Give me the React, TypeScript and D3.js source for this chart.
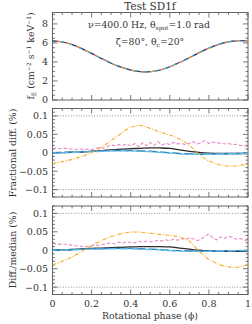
import React, { useEffect, useRef } from 'react';
import * as d3 from 'd3';

// phase grid used by the smooth curves (step 0.05) and the noisy pink curves (step 0.02)
const phase21 = d3.range(21).map(i => i / 20);
const phase51 = d3.range(51).map(i => i / 50);

// top panel: pulse profile (all codes overlap)
const fluxProfile = [6.22, 6.1, 5.82, 5.4, 4.9, 4.37, 3.87, 3.45, 3.15, 2.98, 2.97, 3.15, 3.5, 3.95, 4.45, 4.98, 5.45, 5.85, 6.12, 6.24, 6.22];

// middle panel: fractional difference (%)
const midOrange = [-0.029, -0.024, -0.018, -0.01, 0.0, 0.015, 0.033, 0.052, 0.069, 0.074, 0.066, 0.056, 0.048, 0.037, 0.02, -0.005, -0.022, -0.032, -0.036, -0.035, -0.03];
const midBlack = [0, 0.0005, 0.001, 0.002, 0.004, 0.006, 0.008, 0.01, 0.011, 0.012, 0.013, 0.013, 0.012, 0.008, 0.004, 0.001, -0.001, -0.002, -0.002, -0.002, -0.002];
const midBlue = [0, 0.001, 0.002, 0.003, 0.004, 0.005, 0.006, 0.006, 0.006, 0.005, 0.004, 0.002, 0.0, -0.002, -0.003, -0.004, -0.004, -0.003, -0.003, -0.002, -0.001];
const midCyan = [-0.001, 0, 0.001, 0.002, 0.003, 0.004, 0.005, 0.005, 0.005, 0.004, 0.003, 0.001, -0.001, -0.003, -0.004, -0.004, -0.004, -0.003, -0.002, -0.002, -0.001];
const midPink = [
  0.012, 0.012, 0.011, 0.012, 0.011, 0.01, 0.009, 0.011, 0.008, 0.01,
  0.009, 0.012, 0.014, 0.013, 0.017, 0.021, 0.019, 0.022, 0.02, 0.024,
  0.018, 0.025, 0.016, 0.027, 0.019, 0.028, 0.02, 0.03, 0.021, 0.026,
  0.022, 0.028, 0.024, 0.025, 0.022, 0.026, 0.03, 0.024, 0.027, 0.033,
  0.025, 0.029, 0.027, 0.026, 0.024, 0.025, 0.022, 0.023, 0.02, 0.019,
  0.017
];

// bottom panel: difference / median (%)
const botOrange = [-0.039, -0.03, -0.018, -0.003, 0.012, 0.026, 0.037, 0.045, 0.049, 0.049, 0.046, 0.043, 0.04, 0.036, 0.024, -0.003, -0.025, -0.038, -0.045, -0.046, -0.039];
const botBlack = [0, 0.001, 0.002, 0.004, 0.005, 0.006, 0.007, 0.008, 0.009, 0.01, 0.01, 0.01, 0.009, 0.006, 0.003, 0.0, -0.002, -0.003, -0.003, -0.003, -0.002];
const botBlue = [0, 0.001, 0.002, 0.003, 0.004, 0.004, 0.005, 0.005, 0.005, 0.004, 0.003, 0.002, 0.0, -0.001, -0.002, -0.002, -0.002, -0.002, -0.001, -0.001, 0];
const botCyan = [-0.001, 0, 0.001, 0.002, 0.003, 0.003, 0.004, 0.004, 0.004, 0.003, 0.002, 0.001, -0.001, -0.002, -0.003, -0.003, -0.003, -0.002, -0.002, -0.001, -0.001];
const botPink = [
  0.017, 0.018, 0.016, 0.017, 0.015, 0.014, 0.012, 0.011, 0.01, 0.011,
  0.012, 0.014, 0.013, 0.016, 0.018, 0.02, 0.017, 0.022, 0.019, 0.023,
  0.021, 0.02, 0.024, 0.022, 0.025, 0.023, 0.024, 0.027, 0.025, 0.028,
  0.026, 0.03, 0.027, 0.032, 0.029, 0.034, 0.031, 0.026, 0.03, 0.038,
  0.044, 0.033, 0.028, 0.036, 0.032, 0.038, 0.035, 0.03, 0.032, 0.028,
  0.024
];

const xTicks = [0, 0.2, 0.4, 0.6, 0.8, 1];
const topTicks = [0, 2, 4, 6, 8];
const diffTicks = [-0.1, -0.05, 0, 0.05, 0.1];

const colors = {
  orange: '#f4ad24',
  pink: '#e58ac4',
  blue: '#2b7fb8',
  cyan: '#5cb8e6',
  black: '#2a2a2a'
};

const W = 252;
const H = 324;
const FONT = 'DejaVu Serif, serif';

const App = () => {
  const gRef = useRef<SVGGElement>(null);

  useEffect(() => {
    const svg = d3.select(gRef.current);
    svg.selectAll('*').remove();

    const left = 52.5;
    const right = 248;
    const x = d3.scaleLinear().domain([0, 1]).range([left, right]);

    const diffFmt = (d: number) => d === 0 ? '0' : d3.format('.2~f')(d).replace('-', '\u2212');
    const panels = [
      { top: 12.5, bottom: 100, domain: [0, 9.2], ticks: topTicks, minor: 0.5, fmt: (d: number) => String(d) },
      { top: 108.5, bottom: 197, domain: [-0.12, 0.12], ticks: diffTicks, minor: 0.01, fmt: diffFmt },
      { top: 206, bottom: 294.5, domain: [-0.12, 0.12], ticks: diffTicks, minor: 0.01, fmt: diffFmt }
    ];

    const axisColor = '#555';

    const scales = panels.map((p, pi) => {
      const y = d3.scaleLinear().domain(p.domain).range([p.bottom, p.top]);
      const g = svg.append('g');

      // dotted reference lines at +/-0.1
      if (pi > 0) {
        [-0.1, 0.1].forEach(v => {
          g.append('line')
            .attr('x1', left).attr('x2', right)
            .attr('y1', y(v)).attr('y2', y(v))
            .attr('stroke', '#777').attr('stroke-width', 0.8)
            .attr('stroke-dasharray', '1,1.6');
        });
      }

      // x ticks (inside, mirrored)
      d3.range(0, 1.0001, 0.05).forEach(v => {
        const major = xTicks.some(t => Math.abs(t - v) < 1e-6);
        const len = major ? 5 : 2.5;
        g.append('line').attr('x1', x(v)).attr('x2', x(v))
          .attr('y1', p.bottom).attr('y2', p.bottom - len)
          .attr('stroke', axisColor).attr('stroke-width', 0.8);
        g.append('line').attr('x1', x(v)).attr('x2', x(v))
          .attr('y1', p.top).attr('y2', p.top + len)
          .attr('stroke', axisColor).attr('stroke-width', 0.8);
      });

      // y ticks (inside, mirrored)
      const [d0, d1] = p.domain;
      const start = Math.ceil(d0 / p.minor - 1e-6) * p.minor;
      d3.range(start, d1 + 1e-9, p.minor).forEach(v => {
        const major = p.ticks.some(t => Math.abs(t - v) < 1e-6);
        const len = major ? 5 : 2.5;
        g.append('line').attr('y1', y(v)).attr('y2', y(v))
          .attr('x1', left).attr('x2', left + len)
          .attr('stroke', axisColor).attr('stroke-width', 0.8);
        g.append('line').attr('y1', y(v)).attr('y2', y(v))
          .attr('x1', right).attr('x2', right - len)
          .attr('stroke', axisColor).attr('stroke-width', 0.8);
      });

      g.selectAll('text.ytick')
        .data(p.ticks)
        .enter().append('text')
        .attr('class', 'ytick')
        .attr('x', left - 4.5)
        .attr('y', d => y(d) + 3.4)
        .attr('text-anchor', 'end')
        .attr('font-family', FONT)
        .attr('font-size', 9.5)
        .attr('fill', '#333')
        .text(d => p.fmt(d));

      g.append('rect')
        .attr('x', left).attr('y', p.top)
        .attr('width', right - left).attr('height', p.bottom - p.top)
        .attr('fill', 'none').attr('stroke', axisColor).attr('stroke-width', 0.9);

      return y;
    });

    const drawLine = (y: d3.ScaleLinear<number, number>, xs: number[], ys: number[], color: string, dash: string | null, width: number, curve = d3.curveCatmullRom.alpha(0.5), offset = 0) => {
      const line = d3.line<number>()
        .x((_, i) => x(xs[i]))
        .y(d => y(d))
        .curve(curve);
      const path = svg.append('path')
        .datum(ys)
        .attr('d', line)
        .attr('fill', 'none')
        .attr('stroke', color)
        .attr('stroke-width', width);
      if (dash) path.attr('stroke-dasharray', dash).attr('stroke-dashoffset', offset);
    };

    // top panel: overlapping codes drawn with staggered dashes
    const [yTop, yMid, yBot] = scales;
    drawLine(yTop, phase21, fluxProfile, colors.black, null, 1.2);
    drawLine(yTop, phase21, fluxProfile, colors.blue, '2,8', 1.3, undefined, 0);
    drawLine(yTop, phase21, fluxProfile, colors.cyan, '2,8', 1.3, undefined, 2);
    drawLine(yTop, phase21, fluxProfile, colors.orange, '2,8', 1.3, undefined, 4);
    drawLine(yTop, phase21, fluxProfile, colors.pink, '2,8', 1.3, undefined, 6);

    // difference panels
    [
      { y: yMid, orange: midOrange, black: midBlack, blue: midBlue, cyan: midCyan, pink: midPink },
      { y: yBot, orange: botOrange, black: botBlack, blue: botBlue, cyan: botCyan, pink: botPink }
    ].forEach(s => {
      drawLine(s.y, phase51, s.pink, colors.pink, '3.5,2', 1.1, d3.curveLinear);
      drawLine(s.y, phase21, s.black, colors.black, null, 1.3);
      drawLine(s.y, phase21, s.blue, colors.blue, '9,3', 1.4);
      drawLine(s.y, phase21, s.cyan, colors.cyan, '9,3', 1.4, undefined, 5);
      drawLine(s.y, phase21, s.orange, colors.orange, '4,1.5,1,1.5', 1.1);
    });

    // x tick labels (bottom panel only)
    svg.selectAll('text.xtick')
      .data(xTicks)
      .enter().append('text')
      .attr('class', 'xtick')
      .attr('x', d => x(d))
      .attr('y', 307)
      .attr('text-anchor', 'middle')
      .attr('font-family', FONT)
      .attr('font-size', 9.5)
      .attr('fill', '#333')
      .text(d => String(d));
  }, []);

  const textStyle = { fontFamily: FONT, fill: '#333' };

  return (
    <svg width={W} height={H} style={{ position: 'absolute', left: 0, top: 0, background: '#fff' }}>
      <g ref={gRef} />
      <text x={150} y={9.5} textAnchor="middle" fontSize={10.5} style={textStyle}>Test SD1f</text>
      <text x={149} y={27.5} textAnchor="middle" fontSize={9.3} style={textStyle}>
        ν=400.0 Hz, θ<tspan fontSize={6} dy={2}>spot</tspan><tspan dy={-2}>=1.0 rad</tspan>
      </text>
      <text x={150} y={44.5} textAnchor="middle" fontSize={9.3} style={textStyle}>
        ζ=80°, θ<tspan fontSize={6} dy={2}>c</tspan><tspan dy={-2}>=20°</tspan>
      </text>
      <text transform="translate(34,56) rotate(-90)" textAnchor="middle" fontSize={9.3} style={textStyle}>
        f<tspan fontSize={6} dy={2}>E</tspan><tspan dy={-2}> (cm</tspan><tspan fontSize={6} dy={-3.5}>−2</tspan><tspan dy={3.5}> s</tspan><tspan fontSize={6} dy={-3.5}>−1</tspan><tspan dy={3.5}> keV</tspan><tspan fontSize={6} dy={-3.5}>−1</tspan><tspan dy={3.5}>)</tspan>
      </text>
      <text transform="translate(16,153) rotate(-90)" textAnchor="middle" fontSize={9.3} style={textStyle}>Fractional diff. (%)</text>
      <text transform="translate(16,250) rotate(-90)" textAnchor="middle" fontSize={9.3} style={textStyle}>Diff./median (%)</text>
      <text x={150} y={319} textAnchor="middle" fontSize={9.3} style={textStyle}>Rotational phase (ϕ)</text>
    </svg>
  );
};

export default App;
